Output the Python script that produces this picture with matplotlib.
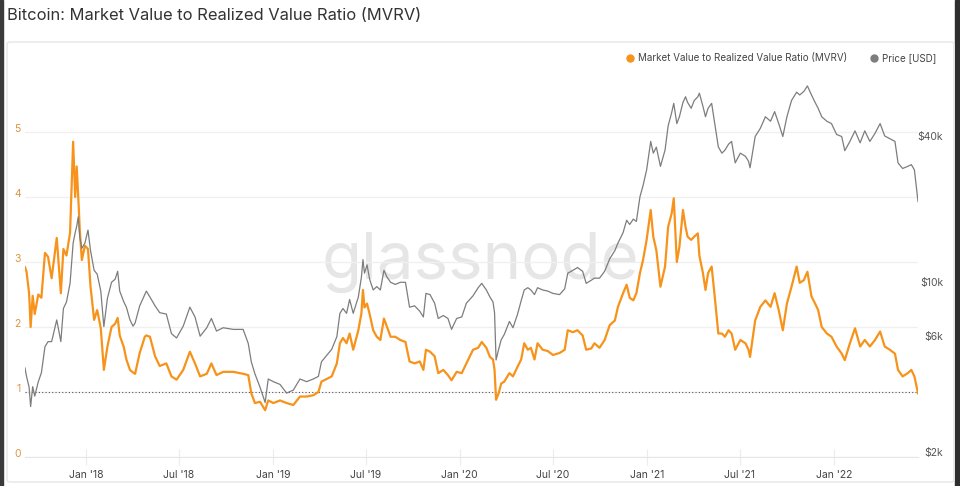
import matplotlib
matplotlib.use("Agg")
import matplotlib.pyplot as plt
import matplotlib.dates as mdates
from matplotlib.lines import Line2D
from matplotlib.patches import FancyBboxPatch, Rectangle
from matplotlib.ticker import NullLocator
import pandas as pd

plt.rcParams['font.family'] = ['Inter', 'DejaVu Sans']

# ---- data (approximate) ----
dates = [
    "2017-09-04", "2017-09-07", "2017-09-12", "2017-09-15", "2017-09-19", "2017-09-23", "2017-09-30", "2017-10-06", "2017-10-13", "2017-10-19",
    "2017-10-26", "2017-11-05", "2017-11-13", "2017-11-18", "2017-11-24", "2017-12-01", "2017-12-07", "2017-12-11", "2017-12-14", "2017-12-17",
    "2017-12-20", "2017-12-24", "2017-12-30", "2018-01-05", "2018-01-10", "2018-01-17", "2018-01-23", "2018-01-30", "2018-02-05", "2018-02-12",
    "2018-02-20", "2018-02-27", "2018-03-04", "2018-03-08", "2018-03-16", "2018-03-21", "2018-03-28", "2018-04-03", "2018-04-07", "2018-04-16",
    "2018-04-26", "2018-04-29", "2018-05-06", "2018-05-16", "2018-05-25", "2018-06-07", "2018-06-17", "2018-06-27", "2018-07-10", "2018-07-23",
    "2018-08-02", "2018-08-12", "2018-08-25", "2018-09-03", "2018-09-13", "2018-09-26", "2018-10-16", "2018-11-04", "2018-11-14", "2018-11-20",
    "2018-11-27", "2018-12-07", "2018-12-17", "2018-12-23", "2019-01-02", "2019-01-15", "2019-01-28", "2019-02-10", "2019-02-23", "2019-03-08",
    "2019-03-21", "2019-03-31", "2019-04-06",
    "2019-04-16", "2019-04-26", "2019-05-06", "2019-05-12", "2019-05-18", "2019-05-25", "2019-05-31", "2019-06-07", "2019-06-17", "2019-06-23",
    "2019-06-26", "2019-06-29", "2019-07-04", "2019-07-09", "2019-07-16", "2019-07-23", "2019-07-30", "2019-08-06", "2019-08-12", "2019-08-19",
    "2019-08-28", "2019-09-07", "2019-09-17", "2019-09-25", "2019-10-05", "2019-10-15", "2019-10-22", "2019-10-27", "2019-11-04", "2019-11-13",
    "2019-11-20", "2019-11-30", "2019-12-09", "2019-12-16", "2019-12-26", "2020-01-05", "2020-01-14", "2020-01-27", "2020-02-06", "2020-02-13",
    "2020-02-22", "2020-02-29", "2020-03-06", "2020-03-09", "2020-03-12", "2020-03-17", "2020-03-22", "2020-03-28", "2020-04-07", "2020-04-14",
    "2020-04-23", "2020-04-30", "2020-05-06", "2020-05-13", "2020-05-19", "2020-05-26", "2020-06-01", "2020-06-11", "2020-06-21", "2020-07-01",
    "2020-07-14", "2020-07-24", "2020-07-30", "2020-08-09", "2020-08-18", "2020-08-28", "2020-09-04", "2020-09-14", "2020-09-20", "2020-09-30",
    "2020-10-10", "2020-10-20", "2020-10-30", "2020-11-05",
    "2020-11-15", "2020-11-22", "2020-11-28", "2020-12-05", "2020-12-11", "2020-12-18", "2020-12-24", "2020-12-31", "2021-01-08", "2021-01-13",
    "2021-01-19", "2021-01-27", "2021-02-05", "2021-02-11", "2021-02-18", "2021-02-22", "2021-02-28", "2021-03-05", "2021-03-12", "2021-03-17",
    "2021-03-21", "2021-03-28", "2021-04-03", "2021-04-10", "2021-04-13", "2021-04-20", "2021-04-25", "2021-04-30", "2021-05-07", "2021-05-13",
    "2021-05-20", "2021-05-27", "2021-06-02", "2021-06-09", "2021-06-15", "2021-06-22", "2021-07-02", "2021-07-12", "2021-07-18", "2021-07-21",
    "2021-07-31", "2021-08-10", "2021-08-20", "2021-08-30", "2021-09-07", "2021-09-15", "2021-09-23", "2021-10-01", "2021-10-10", "2021-10-20",
    "2021-10-26", "2021-11-03", "2021-11-10", "2021-11-18", "2021-11-25", "2021-12-01", "2021-12-08", "2021-12-18", "2021-12-27", "2022-01-06",
    "2022-01-16", "2022-01-22", "2022-02-01", "2022-02-11", "2022-02-21", "2022-03-02", "2022-03-12", "2022-03-22", "2022-04-01", "2022-04-10",
    "2022-04-20", "2022-04-30", "2022-05-06", "2022-05-15", "2022-05-25", "2022-06-01", "2022-06-07", "2022-06-14",
]

mvrv = [
    2.92, 2.85, 2.52, 2.00, 2.48, 2.20, 2.50, 2.45, 3.14, 3.08,
    2.75, 3.37, 2.52, 3.20, 3.10, 3.45, 4.85, 4.00, 4.47, 4.00,
    3.49, 3.03, 3.25, 3.20, 2.62, 2.11, 2.26, 1.98, 1.34, 1.70,
    2.00, 2.05, 2.14, 1.87, 1.69, 1.50, 1.34, 1.30, 1.28, 1.60,
    1.85, 1.87, 1.85, 1.55, 1.40, 1.44, 1.24, 1.19, 1.34, 1.62,
    1.44, 1.24, 1.28, 1.44, 1.26, 1.31, 1.31, 1.28, 1.26, 0.98,
    0.83, 0.85, 0.72, 0.87, 0.83, 0.87, 0.83, 0.80, 0.93, 0.93,
    0.95, 1.00, 1.16,
    1.20, 1.24, 1.44, 1.75, 1.83, 1.75, 1.90, 1.65, 1.95, 2.21,
    2.57, 2.30, 2.36, 2.20, 1.95, 1.85, 1.80, 2.13, 2.00, 1.85,
    1.85, 1.80, 1.77, 1.47, 1.44, 1.47, 1.34, 1.65, 1.62, 1.55,
    1.29, 1.34, 1.26, 1.18, 1.31, 1.29, 1.44, 1.65, 1.68, 1.77,
    1.68, 1.54, 1.50, 1.34, 0.88, 0.98, 1.13, 1.16, 1.29, 1.24,
    1.39, 1.50, 1.75, 1.65, 1.68, 1.50, 1.75, 1.65, 1.63, 1.57,
    1.60, 1.65, 1.95, 1.92, 1.95, 1.87, 1.65, 1.67, 1.75, 1.68,
    1.80, 2.03, 2.10, 2.31,
    2.52, 2.65, 2.45, 2.41, 2.52, 2.83, 3.03, 3.34, 3.80, 3.39,
    3.18, 2.62, 2.93, 3.54, 3.75, 3.98, 3.00, 3.23, 3.80, 3.54,
    3.39, 3.34, 3.39, 3.44, 3.10, 2.83, 2.57, 2.83, 2.93, 2.47,
    1.90, 1.90, 1.85, 1.95, 1.90, 1.65, 1.80, 1.75, 1.65, 1.54,
    2.10, 2.31, 2.41, 2.31, 2.52, 2.26, 1.95, 2.36, 2.62, 2.93,
    2.68, 2.72, 2.85, 2.47, 2.36, 2.26, 2.00, 1.90, 1.85, 1.70,
    1.59, 1.49, 1.75, 1.98, 1.70, 1.80, 1.70, 1.80, 1.93, 1.70,
    1.65, 1.59, 1.34, 1.24, 1.29, 1.34, 1.24, 0.98,
]

price = [
    4440, 4100, 3700, 3080, 3720, 3400, 3900, 4240, 5430, 5700,
    5700, 7000, 5700, 7800, 8300, 9900, 14500, 16000, 17000, 18600,
    15300, 13800, 14500, 16400, 13500, 11200, 10800, 9200, 6570, 8600,
    10000, 10300, 11100, 9200, 8300, 7900, 7000, 6600, 6800, 8000,
    8900, 9200, 8700, 8000, 7500, 7400, 6150, 5900, 6600, 7900,
    7200, 6000, 6500, 7100, 6300, 6500, 6400, 6400, 5600, 4700,
    4200, 3700, 3200, 4000, 3900, 3800, 3500, 3600, 4000, 3900,
    4000, 4100, 4710,
    5000, 5300, 5970, 7450, 7800, 7450, 8500, 7450, 8700, 10500,
    12400, 10900, 11800, 10300, 9300, 9600, 9300, 11200, 10500, 10000,
    9800, 10000, 10000, 7900, 8000, 7600, 7200, 9000, 8900, 8200,
    7100, 7300, 7100, 6400, 7100, 7200, 8200, 8800, 9500, 9900,
    9300, 8700, 8300, 7500, 4790, 5300, 5800, 6100, 6900, 6500,
    7400, 8400, 9300, 9500, 9300, 8900, 9500, 9300, 9200, 9000,
    8900, 9400, 10900, 11200, 11500, 11100, 9900, 10200, 10400, 10400,
    11100, 12500, 13500, 14500,
    16000, 18000, 17300, 18200, 17800, 22500, 25000, 29000, 38000, 34000,
    36000, 30000, 35000, 44000, 50000, 54500, 45000, 48000, 55000, 58000,
    55000, 52000, 56000, 58000, 60000, 53000, 48000, 52000, 54500, 45000,
    36100, 34000, 35000, 37000, 38000, 31000, 34000, 33000, 31500, 29600,
    39800, 43000, 48000, 46000, 50400, 45000, 39800, 48000, 56000, 60600,
    59000, 61000, 64300, 59000, 55000, 52000, 48000, 46000, 45000, 40600,
    39800, 34800, 38000, 42000, 37500, 42000, 38000, 41000, 45000, 40000,
    39000, 38000, 31000, 29400, 30000, 30500, 29000, 21500,
]

mvrv_ticks = [0, 1, 2, 3, 4, 5]
price_ticks = [2000, 6000, 10000, 40000]
price_labels = ["$2k", "$6k", "$10k", "$40k"]

title = "Bitcoin: Market Value to Realized Value Ratio (MVRV)"
series_names = ["Market Value to Realized Value Ratio (MVRV)", "Price [USD]"]

ORANGE = "#f7931a"
GREY = "#7d7d7d"

t = pd.to_datetime(dates)

W, H = 960, 486
fig = plt.figure(figsize=(W / 100, H / 100), dpi=100)


def fx(px):
    return px / W


def fy(py):
    return 1 - py / H


# screenshot edges + card (behind the axes)
fig.patches.append(Rectangle((0, 0), fx(3), 1, transform=fig.transFigure,
                             color="#3a3a3a", zorder=-3))
fig.patches.append(Rectangle((fx(955), 0), fx(5), 1, transform=fig.transFigure,
                             color="#2e2e2e", zorder=-3))
fig.patches.append(FancyBboxPatch((fx(7), fy(482)), 947 / W, 440 / H,
                                  boxstyle="round,pad=0,rounding_size=0.004",
                                  transform=fig.transFigure, fc="white",
                                  ec="#e6e6e6", lw=1, zorder=-2))

fig.text(fx(7), fy(15), title, ha="left", va="center", fontsize=11.9, color="#333333")

# main axes (MVRV)
ax = fig.add_axes([fx(25), fy(457), 893 / W, 382 / H])
ax.set_facecolor("none")
ax.plot(t, mvrv, color=ORANGE, lw=1.6, zorder=3)
ax.axhline(1, color="#555555", lw=0.8, ls=(0, (1, 2)), zorder=2)
ax.set_xlim(t[0], t[-1])
ax.set_ylim(0, 382 / 65)
ax.set_yticks(mvrv_ticks)
ax.set_yticklabels([str(v) for v in mvrv_ticks], va="baseline")
ax.grid(axis="y", color="#f0f0f0", lw=1, zorder=0)
ax.tick_params(axis="y", length=0, labelcolor="#de9440", labelsize=7.5, pad=3)
for s in ["top", "right", "left"]:
    ax.spines[s].set_visible(False)
ax.spines["bottom"].set_color("#e6e6e6")

ax.xaxis.set_major_locator(mdates.MonthLocator(bymonth=[1, 7]))
ax.xaxis.set_major_formatter(mdates.DateFormatter("%b '%y"))
ax.tick_params(axis="x", direction="inout", length=12, color="#ececec",
               labelcolor="#444444", labelsize=7.5, pad=3)

ax.text(fx(480), fy(262), "glassnode", transform=fig.transFigure, ha="center",
        va="center", fontsize=47, color="#e6e6e6", zorder=1)

# price axes (log)
ax2 = ax.twinx()
ax2.plot(t, price, color=GREY, lw=0.9, zorder=3)
ax2.set_yscale("log")
ax2.set_ylim(1910, 71300)
ax2.yaxis.set_minor_locator(NullLocator())
ax2.set_yticks(price_ticks)
ax2.set_yticklabels(price_labels, ha="right")
ax2.tick_params(axis="y", length=0, labelcolor="#555555", labelsize=7.5, pad=18)
for s in ax2.spines.values():
    s.set_visible(False)

handles = [Line2D([], [], ls="none", marker="o", ms=5, color=ORANGE),
           Line2D([], [], ls="none", marker="o", ms=5, color=GREY)]
fig.legend(handles, series_names, loc="center right",
           bbox_to_anchor=(fx(940), fy(58)), ncol=2, frameon=False,
           fontsize=7.05, labelcolor="#444444", handlelength=0.7,
           handletextpad=0.45, columnspacing=2.4, borderaxespad=0)

fig.savefig("out.png", dpi=100)
